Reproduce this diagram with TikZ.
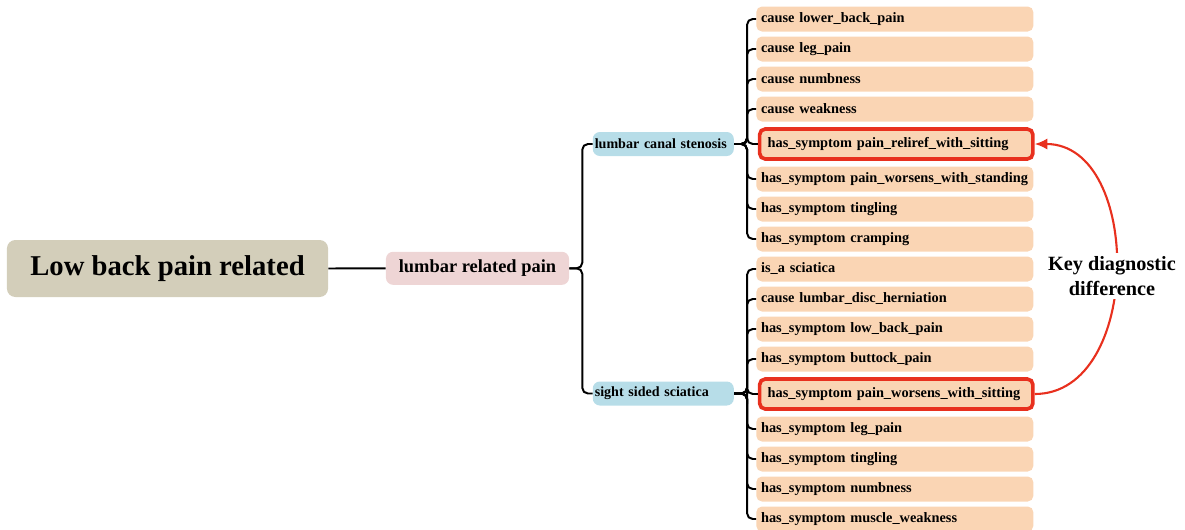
\documentclass[tikz,border=0pt]{standalone}
\usepackage{fontspec}
\setmainfont{Liberation Serif}
\usepackage{xcolor}
\usepackage{tikz}
\usetikzlibrary{arrows.meta, positioning, calc}
\definecolor{rootkhaki}{HTML}{D3CEBA}
\definecolor{branchpink}{HTML}{EED5D5}
\definecolor{diseaseblue}{HTML}{B7DDE8}
\definecolor{leafpeach}{HTML}{FAD5B4}
\definecolor{keyred}{HTML}{E8301E}

\tikzset{
  rootbox/.style={fill=rootkhaki, rounded corners=6pt, minimum width=8.025cm, minimum height=1.425cm,
    font=\bfseries\fontsize{20.4pt}{24pt}\selectfont},
  branchbox/.style={fill=branchpink, rounded corners=5pt, minimum width=4.575cm, minimum height=0.825cm,
    font=\bfseries\fontsize{13.1pt}{15pt}\selectfont},
  diseasebox/.style={fill=diseaseblue, rounded corners=5pt, minimum height=0.6cm,
    inner xsep=0.05cm, anchor=west, align=left, text width=3.425cm,
    font=\bfseries\fontsize{10pt}{12pt}\selectfont},
  leafbox/.style={fill=leafpeach, rounded corners=4pt, minimum height=0.625cm, anchor=west,
    inner xsep=0.12cm, align=left, text width=6.685cm,
    font=\bfseries\fontsize{10.2pt}{12pt}\selectfont},
  keybox/.style={leafbox, draw=keyred, line width=2.6pt, minimum height=0.75cm,
    inner xsep=0.2cm, text width=6.43cm},
  conn/.style={draw=black, line width=1.4pt, rounded corners=4pt},
  keyarrow/.style={draw=keyred, line width=1.5pt, -{Latex[length=9pt, width=8pt]}}
}

\begin{document}
\begin{tikzpicture}[x=0.025cm, y=-0.025cm]
    \useasboundingbox (0,0) rectangle (1185,529);

    % Root and first branch
    \node[rootbox] (root) at (167.5,268.5) {Low back pain related};
    \node[branchbox] (lrp) at (477.5,268.3) {lumbar related pain};
    \draw[conn] (root.east) -- (lrp.west);

    % Diseases
    \node[diseasebox] (lcs) at (592.5,144) {lumbar canal stenosis};
    \node[diseasebox] (sss) at (592.5,393.5) {sight sided sciatica};
    \draw[conn] (lrp.east) -- ++(13,0) |- (lcs.west);
    \draw[conn] (lrp.east) -- ++(13,0) |- (sss.west);

    % Lumbar canal stenosis relations
    \node[leafbox] (c1) at (756,19) {cause lower\_back\_pain};
    \node[leafbox] (c2) at (756,49) {cause leg\_pain};
    \node[leafbox] (c3) at (756,79) {cause numbness};
    \node[leafbox] (c4) at (756,109) {cause weakness};
    \node[keybox] (c5) at (757.8,144) {has\_symptom pain\_reliref\_with\_sitting};
    \node[leafbox] (c6) at (756,179) {has\_symptom pain\_worsens\_with\_standing};
    \node[leafbox] (c7) at (756,209) {has\_symptom tingling};
    \node[leafbox] (c8) at (756,239) {has\_symptom cramping};
    \foreach \c in {c1,c2,c3,c4,c5,c6,c7,c8}
      \draw[conn] (lcs.east) -- ++(13,0) |- (\c.west);

    % Sciatica relations
    \node[leafbox] (s1) at (756,269) {is\_a sciatica};
    \node[leafbox] (s2) at (756,299) {cause lumbar\_disc\_herniation};
    \node[leafbox] (s3) at (756,329) {has\_symptom low\_back\_pain};
    \node[leafbox] (s4) at (756,359) {has\_symptom buttock\_pain};
    \node[keybox] (s5) at (757.8,394) {has\_symptom pain\_worsens\_with\_sitting};
    \node[leafbox] (s6) at (756,429) {has\_symptom leg\_pain};
    \node[leafbox] (s7) at (756,459) {has\_symptom tingling};
    \node[leafbox] (s8) at (756,489) {has\_symptom numbness};
    \node[leafbox] (s9) at (756,519) {has\_symptom muscle\_weakness};
    \foreach \s in {s1,s2,s3,s4,s5,s6,s7,s8,s9}
      \draw[conn] (sss.east) -- ++(13,0) |- (\s.west);

    % Key difference callout
    \draw[keyarrow] (s5.east) .. controls +(108,0) and +(108,0) .. (c5.east);
    \node[fill=white, align=center, inner sep=2pt,
      font=\bfseries\fontsize{14.4pt}{18pt}\selectfont] (key) at (1112,276)
      {Key diagnostic\\difference};
\end{tikzpicture}
\end{document}
